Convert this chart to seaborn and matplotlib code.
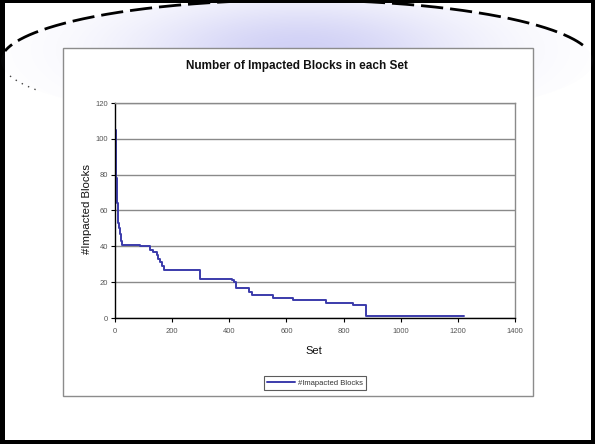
import numpy as np
import pandas as pd
import matplotlib
matplotlib.use("Agg")
import matplotlib.pyplot as plt
import seaborn as sns
from matplotlib.patches import Rectangle, Ellipse

# ---- data ----
set_index = [0, 1, 2, 3, 4, 5, 6, 8, 10, 12, 15, 18, 22, 25,
             87, 122, 134, 147, 152, 157, 165, 172, 297, 411, 418, 425,
             470, 478, 553, 623, 740, 834, 880, 1222]
impacted_blocks = [106, 105, 100, 92, 86, 78, 66, 64, 55, 53, 50, 47, 43, 41,
                   40, 38, 37, 35, 33, 31, 29, 27, 22, 21, 20, 17,
                   14.5, 13, 11, 10, 8.5, 7, 1, 1]
x_ticks = [0, 200, 400, 600, 800, 1000, 1200, 1400]
y_ticks = [0, 20, 40, 60, 80, 100, 120]
chart_title = "Number of Impacted Blocks in each Set"
x_label = "Set"
y_label = "#Impacted Blocks"
series_label = "#Imapacted Blocks"

df = pd.DataFrame({"Set": set_index, "Blocks": impacted_blocks})

sns.set_theme(style="white")
plt.rcParams["font.family"] = ["Liberation Sans", "DejaVu Sans"]

W, H = 595, 444
fig = plt.figure(figsize=(5.95, 4.44), dpi=100)
fig.patch.set_facecolor("white")

# ---- background decoration (pixel coordinates) ----
bg = fig.add_axes([0, 0, 1, 1], zorder=0)
bg.add_patch(Rectangle((0, 0), W, H, facecolor="black", edgecolor="none", zorder=0))
bg.add_patch(Rectangle((5, 3), 586, 437, facecolor="white", edgecolor="none", zorder=0.5))

CX, CY, A, B = 297, 61, 296, 61
yy, xx = np.mgrid[0:H, 0:W]
g = np.exp(-(((xx - 300) / 165.0) ** 2 + ((yy - 50) / 50.0) ** 2))
img = np.zeros((H, W, 4))
img[..., 0] = 0.79
img[..., 1] = 0.79
img[..., 2] = 0.96
img[..., 3] = 0.85 * g
im = bg.imshow(img, extent=(0, W, H, 0), zorder=1, interpolation="bilinear", aspect="auto")
clip_ell = Ellipse((CX, CY), 2 * A, 2 * B, transform=bg.transData, facecolor="none", edgecolor="none")
bg.add_patch(clip_ell)
im.set_clip_path(clip_ell)

t_up = np.radians(np.linspace(15, 170.6, 400))
bg.plot(CX + A * np.cos(t_up), CY - B * np.sin(t_up), color="black", lw=2.0,
        linestyle=(0, (8, 2.5)), zorder=2, solid_capstyle="butt")
t_lo = np.radians(np.linspace(152, 167, 60))
bg.plot(CX + A * np.cos(t_lo), CY + B * np.sin(t_lo), color="#444444", lw=1.0,
        linestyle=(0, (1, 4)), zorder=2)
# keep the top border crisp over the arc
bg.add_patch(Rectangle((0, 0), W, 3, facecolor="black", edgecolor="none", zorder=2.5))

bg.add_patch(Rectangle((62.5, 48), 470.5, 348, facecolor="white",
                       edgecolor="#8c8c8c", lw=1.0, zorder=3))
bg.set_xlim(0, W)
bg.set_ylim(H, 0)
bg.axis("off")

# ---- main chart ----
ax = fig.add_axes([115 / W, 1 - 318 / H, 400 / W, 215 / H], zorder=2)
ax.set_facecolor("white")
sns.lineplot(data=df, x="Set", y="Blocks", ax=ax, drawstyle="steps-post",
             color="#3b3bab", lw=1.4, label=series_label, legend=False)

ax.set_xlim(0, 1400)
ax.set_ylim(0, 120)
ax.set_xticks(x_ticks)
ax.set_yticks(y_ticks)
ax.set_xticklabels([str(v) for v in x_ticks])
ax.set_yticklabels([str(v) for v in y_ticks])
ax.set_xlabel("")
ax.set_ylabel("")
ax.yaxis.grid(True, color="#8a8a8a", lw=1.0)
ax.xaxis.grid(False)
ax.set_axisbelow(True)
for s in ["left", "bottom"]:
    ax.spines[s].set_color("black")
    ax.spines[s].set_linewidth(1.0)
for s in ["top", "right"]:
    ax.spines[s].set_color("#8a8a8a")
    ax.spines[s].set_linewidth(1.0)
ax.tick_params(axis="both", which="major", direction="out", length=3, width=0.8,
               color="black", labelsize=5.5, labelcolor="#555555")
ax.tick_params(axis="y", pad=2, left=True)
ax.tick_params(axis="x", pad=4, bottom=True)

fig.text(297 / W, 1 - 66 / H, chart_title, ha="center", va="center",
         fontsize=8.5, fontweight="bold", color="#111111")
fig.text(87 / W, 1 - 209 / H, y_label, ha="center", va="center", rotation=90,
         fontsize=8.2, color="#111111")
fig.text(314 / W, 1 - 351 / H, x_label, ha="center", va="center",
         fontsize=8, color="#111111")

handles, labels = ax.get_legend_handles_labels()
leg = fig.legend(handles, labels, loc="center", bbox_to_anchor=(315 / W, 1 - 383 / H),
                 fontsize=5.5, frameon=True, fancybox=False, handlelength=3.6,
                 handletextpad=0.4, borderpad=0.45, borderaxespad=0)
leg.get_frame().set_edgecolor("#333333")
leg.get_frame().set_linewidth(0.8)
leg.set_zorder(5)
for t in leg.get_texts():
    t.set_color("#333333")

fig.savefig("out.png", dpi=100)
